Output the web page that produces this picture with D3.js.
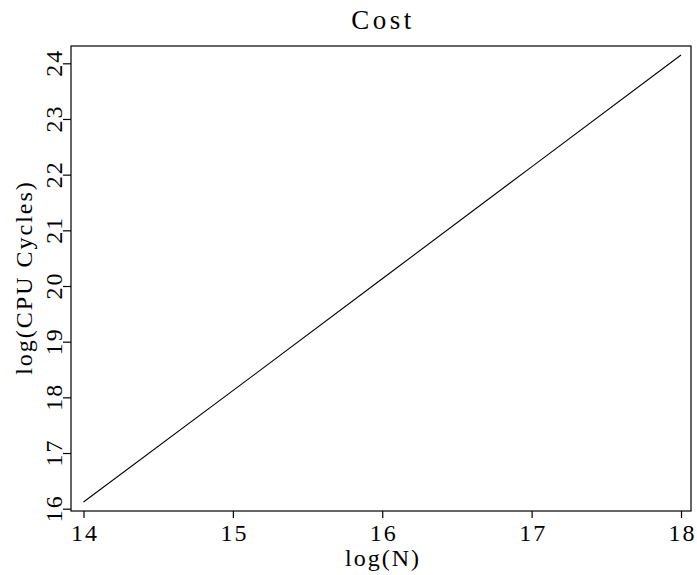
<!DOCTYPE html>
<html>
<head>
<meta charset="utf-8">
<script src="https://cdn.jsdelivr.net/npm/d3@7"></script>
<style>
  html, body { margin: 0; padding: 0; background: #fff; }
  text { font-family: "Liberation Serif", serif; fill: #000; }
</style>
</head>
<body>
<svg id="chart" width="697" height="575"></svg>
<script>
const logN = [14, 15, 16, 17, 18];
const logCycles = [16.12, 18.12, 20.13, 22.14, 24.15];
const xTicks = [14, 15, 16, 17, 18];
const yTicks = [16, 17, 18, 19, 20, 21, 22, 23, 24];
const titleText = "Cost";
const xLabel = "log(N)";
const yLabel = "log(CPU Cycles)";

const svg = d3.select("#chart");
const box = { left: 71, right: 691, top: 46, bottom: 511 };

const x = d3.scaleLinear().domain([14, 18]).range([83.5, 681]);
const y = d3.scaleLinear().domain([16, 24]).range([508.7, 63.3]);

// frame
svg.append("rect")
  .attr("x", box.left).attr("y", box.top)
  .attr("width", box.right - box.left).attr("height", box.bottom - box.top)
  .attr("fill", "none").attr("stroke", "#000").attr("stroke-width", 1.2);

// x axis
const xAxis = d3.axisBottom(x).tickValues(xTicks).tickSize(7).tickPadding(6).tickFormat(d3.format("d"));
const gx = svg.append("g").attr("transform", `translate(0,${box.bottom})`).call(xAxis);
gx.select(".domain").remove();
gx.selectAll(".tick line").attr("stroke", "#000").attr("stroke-width", 1.2);
gx.selectAll(".tick text")
  .attr("dy", null).attr("y", 29.5)
  .attr("dx", 1)
  .style("font-family", "Liberation Serif").style("font-size", "24px")
  .style("letter-spacing", "2px").attr("fill", "#000");

// y axis
const yAxis = d3.axisLeft(y).tickValues(yTicks).tickSize(8).tickFormat(d3.format("d"));
const gy = svg.append("g").attr("transform", `translate(${box.left},0)`).call(yAxis);
gy.select(".domain").remove();
gy.selectAll(".tick line").attr("stroke", "#000").attr("stroke-width", 1.2);
gy.selectAll(".tick text")
  .attr("x", null).attr("dy", null).attr("y", null)
  .attr("text-anchor", "middle")
  .attr("transform", "translate(-9,0) rotate(-90) translate(1,0)")
  .style("font-family", "Liberation Serif").style("font-size", "24px")
  .style("letter-spacing", "2px").attr("fill", "#000");

// line
const line = d3.line().x((d, i) => x(logN[i])).y(d => y(d));
svg.append("path")
  .datum(logCycles)
  .attr("d", line)
  .attr("fill", "none").attr("stroke", "#000").attr("stroke-width", 1.1);

// title
svg.append("text")
  .attr("x", 383).attr("y", 29)
  .attr("text-anchor", "middle")
  .style("font-size", "27px").style("letter-spacing", "3.5px")
  .text(titleText);

// x label
svg.append("text")
  .attr("x", 383).attr("y", 566)
  .attr("text-anchor", "middle")
  .style("font-size", "24px").style("letter-spacing", "2px")
  .text(xLabel);

// y label
svg.append("text")
  .attr("transform", `translate(32,${(box.top + box.bottom) / 2}) rotate(-90) translate(1,0)`)
  .attr("text-anchor", "middle")
  .style("font-size", "24px").style("letter-spacing", "2px")
  .text(yLabel);
</script>
</body>
</html>
